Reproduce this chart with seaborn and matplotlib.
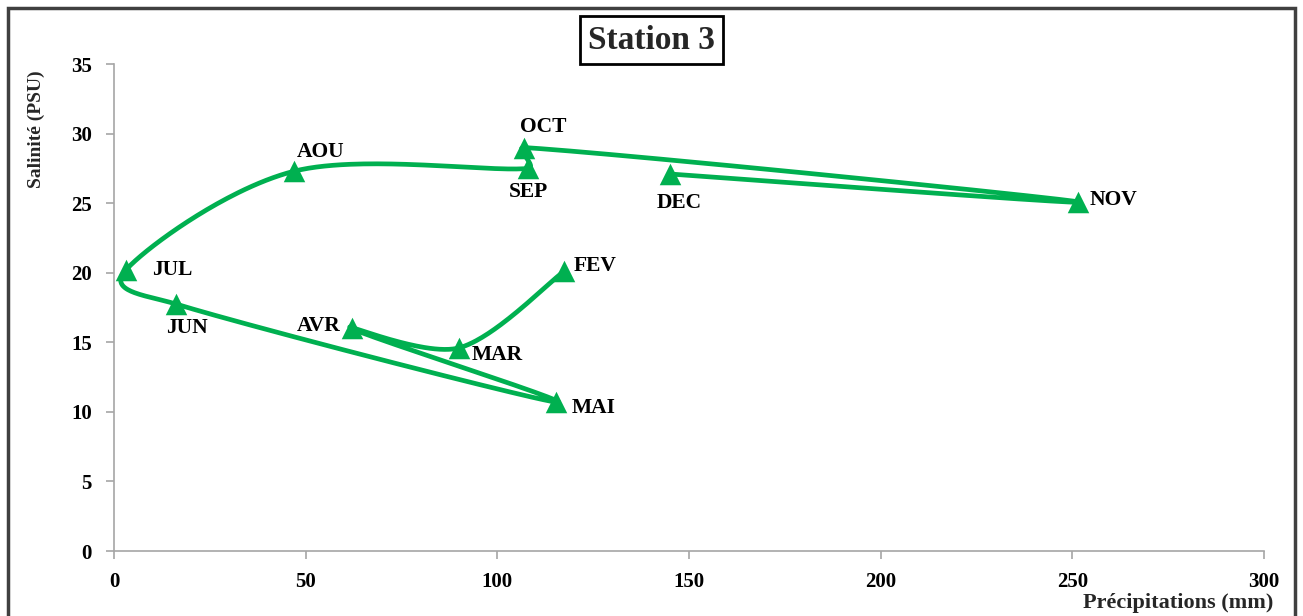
import numpy as np
import pandas as pd
import matplotlib
matplotlib.use("Agg")
import matplotlib.pyplot as plt
import seaborn as sns
from matplotlib.patches import Rectangle

# ---- data ----
months = ["FEV", "MAR", "AVR", "MAI", "JUN", "JUL", "AOU", "SEP", "OCT", "NOV", "DEC"]
precip = [117.4, 90.0, 62.0, 115.3, 16.2, 3.1, 47.0, 108.0, 107.0, 251.5, 145.0]
salinity = [20.1, 14.6, 16.0, 10.7, 17.75, 20.2, 27.3, 27.5, 29.0, 25.1, 27.1]
x_ticks = [0, 50, 100, 150, 200, 250, 300]
y_ticks = [0, 5, 10, 15, 20, 25, 30, 35]
title = "Station 3"
x_label = "Précipitations (mm)"
y_label = "Salinité (PSU)"

GREEN = "#00B050"

sns.set_theme(style="white")
plt.rcParams["font.family"] = ["Liberation Serif", "DejaVu Serif"]
plt.rcParams["font.weight"] = "bold"

df = pd.DataFrame({"month": months, "x": precip, "y": salinity})

# screen scale (px per data unit) so smoothing is done in display space like Excel
SX, SY = 1150 / 300, 487 / 35


def excel_smooth(xs, ys, n=60):
    """Excel-like smoothed line: Bezier segments, Catmull-Rom handles limited to half the segment."""
    P = np.column_stack([np.asarray(xs) * SX, np.asarray(ys) * SY]).astype(float)
    out = []
    m = len(P)
    for i in range(m - 1):
        p0 = P[i - 1] if i > 0 else P[i]
        p1 = P[i]
        p2 = P[i + 1]
        p3 = P[i + 2] if i + 2 < m else P[i + 1]
        seglen = np.linalg.norm(p2 - p1)
        h1 = (p2 - p0) / 6.0
        h2 = (p3 - p1) / 6.0
        lim = 0.5 * seglen
        for h in (h1, h2):
            L = np.linalg.norm(h)
            if L > lim and L > 0:
                h *= lim / L
        c1 = p1 + h1
        c2 = p2 - h2
        t = np.linspace(0, 1, n)[:, None]
        seg = ((1 - t) ** 3) * p1 + 3 * ((1 - t) ** 2) * t * c1 + 3 * (1 - t) * t ** 2 * c2 + t ** 3 * p2
        if i > 0:
            seg = seg[1:]
        out.append(seg)
    C = np.vstack(out)
    return C[:, 0] / SX, C[:, 1] / SY


cx, cy = excel_smooth(df["x"].values, df["y"].values)
curve_df = pd.DataFrame({"x": cx, "y": cy})

fig = plt.figure(figsize=(13.03, 6.16), dpi=100)
ax = fig.add_axes([0.0875, 0.1055, 0.8825, 0.7905])

sns.lineplot(data=curve_df, x="x", y="y", sort=False, estimator=None, ax=ax,
             color=GREEN, linewidth=3.4, solid_capstyle="round", solid_joinstyle="round")
sns.scatterplot(data=df, x="x", y="y", ax=ax, marker="^", s=240, color=GREEN,
                edgecolor=GREEN, linewidth=0, zorder=5)

# label offsets in points (style, not data)
offsets = {
    "FEV": (7, 4, "left", "center"),
    "MAR": (9, -5, "left", "center"),
    "AVR": (-8, 2, "right", "center"),
    "MAI": (11, -4, "left", "center"),
    "JUN": (8, -17, "center", "center"),
    "JUL": (19, 0, "left", "center"),
    "AOU": (2, 14, "left", "center"),
    "SEP": (0, -17, "center", "center"),
    "OCT": (-3, 15, "left", "center"),
    "NOV": (8, 1, "left", "center"),
    "DEC": (7, -21, "center", "center"),
}
for mo, xv, yv in zip(months, precip, salinity):
    dx, dy, ha, va = offsets[mo]
    ax.annotate(mo, (xv, yv), xytext=(dx, dy), textcoords="offset points",
                ha=ha, va=va, fontsize=15.5, fontweight="bold", color="black",
                family=["Liberation Serif", "DejaVu Serif"])

ax.set_xlim(0, 300)
ax.set_ylim(0, 35)
ax.set_xticks(x_ticks)
ax.set_yticks(y_ticks)
ax.set_xticklabels([str(v) for v in x_ticks], fontsize=15, fontweight="bold")
ax.set_yticklabels([str(v) for v in y_ticks], fontsize=15, fontweight="bold")
ax.set_xlabel("")
ax.set_ylabel("")
for side in ["top", "right"]:
    ax.spines[side].set_visible(False)
for side in ["left", "bottom"]:
    ax.spines[side].set_color("#A6A6A6")
    ax.spines[side].set_linewidth(1.2)
ax.tick_params(axis="both", which="major", direction="out", length=6, width=1.2,
               color="#A6A6A6", labelcolor="black", left=True, bottom=True)
ax.tick_params(axis="x", pad=9)
ax.tick_params(axis="y", pad=10)
ax.grid(False)

fig.text(0.977, 0.021, x_label, ha="right", va="center", fontsize=16, fontweight="bold")
fig.text(0.028, 0.79, y_label, ha="center", va="center", rotation=90, fontsize=14, fontweight="bold")
fig.text(0.5, 0.935, title, ha="center", va="center", fontsize=24, fontweight="bold",
         bbox=dict(boxstyle="square,pad=0.25", facecolor="white", edgecolor="black", linewidth=2))

# outer chart frame
fig.patches.append(Rectangle((8 / 1303, -0.05), 1 - 16 / 1303, 1.05 - 8 / 616,
                             transform=fig.transFigure, fill=False, edgecolor="#404040",
                             linewidth=2.5, zorder=0))

fig.savefig("out.png", dpi=100)
